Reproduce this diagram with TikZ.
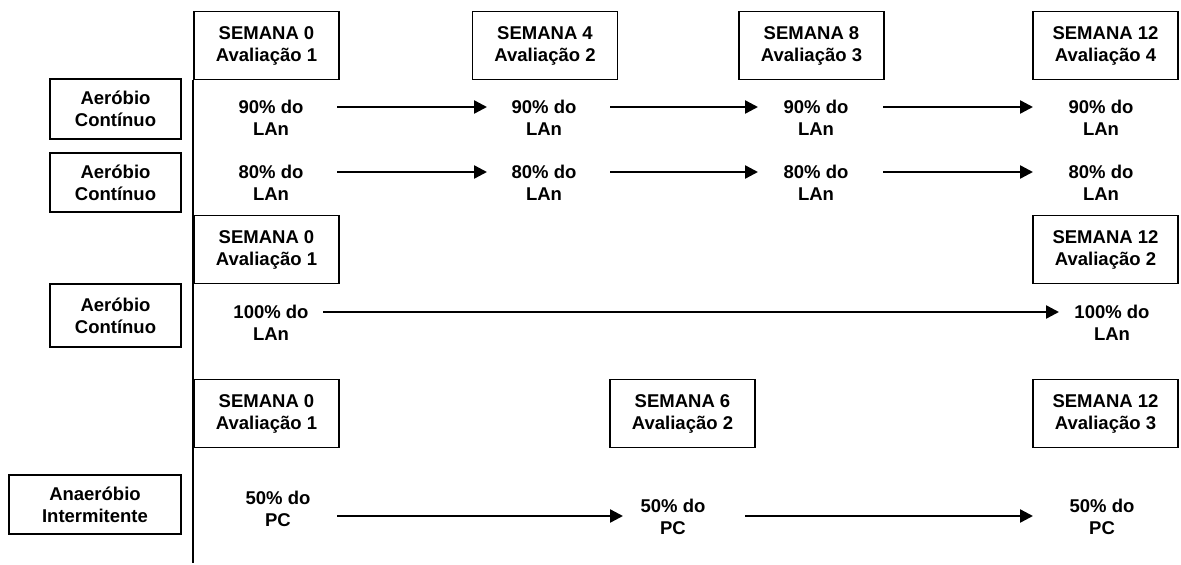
\documentclass[tikz,border=0pt]{standalone}
\usepackage{fontspec}
\setmainfont{Liberation Sans}
\usetikzlibrary{arrows.meta}
\begin{document}
\begin{tikzpicture}[x=1pt,y=-1pt,
  every node/.style={font=\fontsize{18.5}{22}\selectfont\bfseries, align=center, inner sep=0pt},
  wbox/.style={draw, line width=1.5pt, minimum width=145pt, minimum height=68pt},
  lbox/.style={draw, line width=1.5pt, minimum width=131pt},
  lbl/.style={},
  arr/.style={line width=2.4pt, -{Triangle[length=13pt,width=13pt]}},
  axis/.style={line width=1.6pt}]
\useasboundingbox (0,0) rectangle (1181,565);
% vertical axis
\coordinate (axtop) at (193,80);
\coordinate (axbot) at (193,563);
\draw[axis] (axtop) -- (axbot);
% left labels
\node[lbox, minimum height=60pt] (L1) at (115.5,109) {Aeróbio\\Contínuo};
\node[lbox, minimum height=59pt] (L2) at (115.5,182.5) {Aeróbio\\Contínuo};
\node[lbox, minimum height=63pt] (L3) at (115.5,315.5) {Aeróbio\\Contínuo};
\node[lbox, minimum width=172pt, minimum height=59pt] (L4) at (95,504.5) {Anaeróbio\\Intermitente};
% week boxes, block 1
\node[wbox] (W0a) at (266.5,45.5) {SEMANA 0\\Avaliação 1};
\node[wbox] (W4) at (545,45.5) {SEMANA 4\\Avaliação 2};
\node[wbox] (W8) at (811.5,45.5) {SEMANA 8\\Avaliação 3};
\node[wbox] (W12a) at (1105.5,45.5) {SEMANA 12\\Avaliação 4};
% block 2
\node[wbox] (W0b) at (266.5,249.5) {SEMANA 0\\Avaliação 1};
\node[wbox] (W12b) at (1105.5,249.5) {SEMANA 12\\Avaliação 2};
% block 3
\node[wbox] (W0c) at (266.5,413.5) {SEMANA 0\\Avaliação 1};
\node[wbox] (W6) at (682.5,413.5) {SEMANA 6\\Avaliação 2};
\node[wbox] (W12c) at (1105.5,413.5) {SEMANA 12\\Avaliação 3};
% row 1
\node[lbl] (a1) at (271,118) {90\% do\\LAn};
\node[lbl] (a2) at (544,118) {90\% do\\LAn};
\node[lbl] (a3) at (816,118) {90\% do\\LAn};
\node[lbl] (a4) at (1101,118) {90\% do\\LAn};
% row 2
\node[lbl] (b1) at (271,183) {80\% do\\LAn};
\node[lbl] (b2) at (544,183) {80\% do\\LAn};
\node[lbl] (b3) at (816,183) {80\% do\\LAn};
\node[lbl] (b4) at (1101,183) {80\% do\\LAn};
% row 3
\node[lbl] (c1) at (271,323) {100\% do\\LAn};
\node[lbl] (c2) at (1112,323) {100\% do\\LAn};
% row 4
\node[lbl] (d1) at (278,509) {50\% do\\PC};
\node[lbl] (d2) at (673,517) {50\% do\\PC};
\node[lbl] (d3) at (1102,517) {50\% do\\PC};
% arrows
\draw[arr] ([shift={(66,-11)}]a1.center) -- ([shift={(-57,-11)}]a2.center);
\draw[arr] ([shift={(66,-11)}]a2.center) -- ([shift={(-58,-11)}]a3.center);
\draw[arr] ([shift={(67,-11)}]a3.center) -- ([shift={(-68,-11)}]a4.center);
\draw[arr] ([shift={(66,-11)}]b1.center) -- ([shift={(-57,-11)}]b2.center);
\draw[arr] ([shift={(66,-11)}]b2.center) -- ([shift={(-58,-11)}]b3.center);
\draw[arr] ([shift={(67,-11)}]b3.center) -- ([shift={(-68,-11)}]b4.center);
\draw[arr] ([shift={(52,-11)}]c1.center) -- ([shift={(-53,-11)}]c2.center);
\draw[arr] ([shift={(59,7)}]d1.center) -- ([shift={(-50,-1)}]d2.center);
\draw[arr] ([shift={(72,-1)}]d2.center) -- ([shift={(-69,-1)}]d3.center);
\end{tikzpicture}
\end{document}
